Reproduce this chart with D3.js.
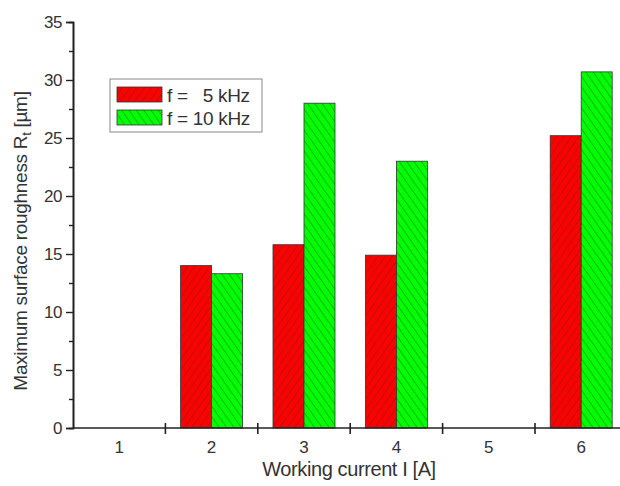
<!DOCTYPE html>
<html>
<head>
<meta charset="utf-8">
<script src="https://cdn.jsdelivr.net/npm/d3@7"></script>
<style>
  body { margin: 0; background: #fff; }
  text { font-family: "Liberation Sans", Arial, sans-serif; fill: #333; }
</style>
</head>
<body>
<script>
// Categories on the x axis (working current).
const currents = ["1", "2", "3", "4", "5", "6"];

// Series values (null = no bar).
const series5kHz = [null, 14.0, 15.8, 14.9, null, 25.2];
const series10kHz = [null, 13.3, 28.0, 23.0, null, 30.7];

// Legend labels.
const legendLabels = ["f =   5 kHz", "f = 10 kHz"];

// Y tick labels.
const yTicks = [0, 5, 10, 15, 20, 25, 30, 35];

const W = 620, H = 486;
const plotLeft = 73, plotBottom = 428, plotTop = 22;
const step = 92.4;

const svg = d3.select("body").append("svg")
    .attr("width", W).attr("height", H);

const defs = svg.append("defs");
const makeHatch = function (id, color, dir) {
    const p = defs.append("pattern")
        .attr("id", id)
        .attr("patternUnits", "userSpaceOnUse")
        .attr("width", 6).attr("height", 6)
        .attr("patternTransform", `rotate(${dir})`);
    p.append("rect").attr("width", 6).attr("height", 6).attr("fill", color);
    p.append("line")
        .attr("x1", 0).attr("y1", 0).attr("x2", 0).attr("y2", 6)
        .attr("stroke", "#333").attr("stroke-width", 0.9).attr("stroke-opacity", 0.8);
};
makeHatch("hatchRed", "#ff0000", 35);
makeHatch("hatchGreen", "#00ff00", -35);

const x = d3.scaleBand()
    .domain(currents)
    .range([plotLeft, plotLeft + step * currents.length])
    .paddingInner(0).paddingOuter(0);

const y = d3.scaleLinear().domain([0, 35]).range([plotBottom, plotTop]);

const barW = 31;
const colorsFill = ["url(#hatchRed)", "url(#hatchGreen)"];
[series5kHz, series10kHz].forEach(function (vals, si) {
    svg.append("g").selectAll("rect")
        .data(currents.map((c, i) => ({ c: c, v: vals[i] })).filter(d => d.v !== null))
        .join("rect")
        .attr("x", d => x(d.c) + x.bandwidth() / 2 - barW + si * barW)
        .attr("y", d => y(d.v))
        .attr("width", barW)
        .attr("height", d => plotBottom - y(d.v))
        .attr("fill", colorsFill[si])
        .attr("stroke", "#333")
        .attr("stroke-width", 0.8);
});

// Y axis with minor ticks.
const yAxis = svg.append("g").attr("transform", `translate(${plotLeft},0)`);
yAxis.call(d3.axisLeft(y).tickValues(d3.range(2.5, 35, 5)).tickSize(4).tickFormat(""));
yAxis.append("g").call(d3.axisLeft(y).tickValues(yTicks).tickSize(7).tickPadding(4));
yAxis.selectAll("path.domain").attr("stroke", "#222").attr("stroke-width", 1.6);
yAxis.selectAll("line").attr("stroke", "#222").attr("stroke-width", 1.4);
yAxis.selectAll("text").style("font-size", "17px").style("letter-spacing", "-0.5px").attr("fill", "#444");

// X axis: ticks at category boundaries, crossing the axis.
const xAxis = svg.append("g").attr("transform", `translate(0,${plotBottom})`);
xAxis.append("line")
    .attr("x1", plotLeft).attr("x2", W)
    .attr("stroke", "#222").attr("stroke-width", 1.6);
xAxis.selectAll("line.tick")
    .data(currents.slice(1))
    .join("line")
    .attr("class", "tick")
    .attr("x1", d => x(d)).attr("x2", d => x(d))
    .attr("y1", -5).attr("y2", 6)
    .attr("stroke", "#222").attr("stroke-width", 1.6);
xAxis.selectAll("text")
    .data(currents)
    .join("text")
    .attr("x", d => x(d) + x.bandwidth() / 2)
    .attr("y", 25)
    .attr("text-anchor", "middle")
    .style("font-size", "17px")
    .attr("fill", "#444")
    .text(d => d);

// Axis titles.
svg.append("text")
    .attr("x", 349).attr("y", 476)
    .attr("text-anchor", "middle")
    .style("font-size", "20px")
    .style("letter-spacing", "-0.4px")
    .text("Working current I [A]");

const yTitle = svg.append("text")
    .attr("transform", "translate(27,241) rotate(-90)")
    .attr("text-anchor", "middle")
    .style("font-size", "19px")
    .style("letter-spacing", "-0.3px");
yTitle.append("tspan").text("Maximum surface roughness R");
yTitle.append("tspan").attr("dy", 4).style("font-size", "13px").text("t");
yTitle.append("tspan").attr("dy", -4).text(" [\u00b5m]");

// Legend.
const legend = svg.append("g");
legend.append("rect")
    .attr("x", 110).attr("y", 79).attr("width", 152).attr("height", 53)
    .attr("fill", "#fff").attr("stroke", "#888").attr("stroke-width", 1);
legendLabels.forEach(function (lab, i) {
    legend.append("rect")
        .attr("x", 117).attr("y", 87 + i * 23).attr("width", 45).attr("height", 15)
        .attr("fill", colorsFill[i]).attr("stroke", "#333").attr("stroke-width", 0.8);
    legend.append("text")
        .attr("x", 167).attr("y", 102 + i * 23)
        .style("font-size", "19px")
        .style("letter-spacing", "-0.3px")
        .style("white-space", "pre")
        .text(lab);
});
</script>
</body>
</html>
